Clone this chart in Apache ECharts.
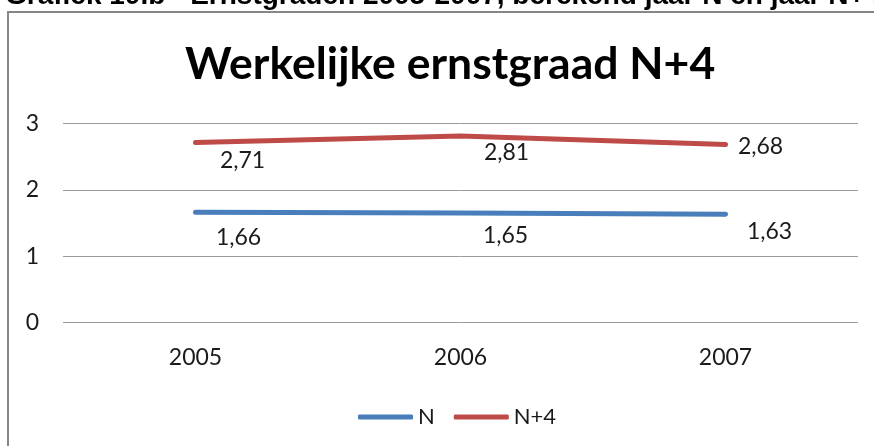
<!DOCTYPE html>
<html>
<head>
<meta charset="utf-8">
<script src="https://cdn.jsdelivr.net/npm/echarts@6/dist/echarts.min.js"></script>
<style>
html,body{margin:0;padding:0;background:#fff;}
#c{width:874px;height:446px;}
</style>
</head>
<body>
<div id="c"></div>
<script>
// ---- data ----
const categories = ['2005', '2006', '2007'];
const seriesNames = ['N', 'N+4'];
const valuesN = [1.66, 1.65, 1.63];
const valuesN4 = [2.71, 2.81, 2.68];
const yTicks = [0, 1, 2, 3];
const chartTitle = 'Werkelijke ernstgraad N+4';
const caption = 'Grafiek 10.b - Ernstgraden 2005-2007, berekend jaar N en jaar N+4';

// ---- layout / style (not data) ----
const labelOffsetsN = [[43, 25], [45, 23], [44, 17]];
const labelOffsetsN4 = [[47, 18], [46, 17], [35, 2]];
const fmt = v => String(v.toFixed(2)).replace('.', ',');
const FONT = 'Lato, "Open Sans", sans-serif';
const TXT = '#1a1a1a';
const GRID = '#9a9a9a';

function buildData(vals, offs) {
  return vals.map((v, i) => ({
    value: v,
    label: { offset: offs[i] }
  }));
}

const chart = echarts.init(document.getElementById('c'), null, { renderer: 'canvas' });
chart.setOption({
  backgroundColor: '#ffffff',
  animation: false,
  title: {
    text: chartTitle,
    left: 180,
    top: 37,
    textStyle: { fontFamily: FONT, fontWeight: 'bold', fontSize: 44.5, color: '#000' }
  },
  graphic: [
    {
      type: 'rect',
      shape: { x: 8, y: 12, width: 900, height: 500 },
      style: { fill: 'none', stroke: '#868686', lineWidth: 2 },
      silent: true, z: 0
    },
    {
      type: 'text',
      x: 5, y: -4,
      style: {
        text: caption,
        font: 'bold 28px "Liberation Sans", Arial, sans-serif',
        fill: '#000',
        verticalAlign: 'middle',
        align: 'left'
      },
      silent: true, z: 10
    }
  ],
  legend: {
    data: seriesNames,
    left: 353,
    top: 401,
    itemWidth: 55,
    itemHeight: 5,
    itemGap: 19,
    icon: 'roundRect',
    textStyle: { fontFamily: FONT, fontSize: 22, color: TXT, padding: [0, 0, 0, 0] }
  },
  grid: { left: 63, right: 16, top: 123.3, bottom: 123.3, containLabel: false },
  xAxis: {
    type: 'category',
    data: categories,
    boundaryGap: true,
    axisLine: { show: false },
    axisTick: { show: false },
    axisLabel: { fontFamily: FONT, fontSize: 23, color: TXT, margin: 23 }
  },
  yAxis: {
    type: 'value',
    min: yTicks[0],
    max: yTicks[yTicks.length - 1],
    interval: 1,
    axisLine: { show: false },
    axisTick: { show: false },
    splitLine: { lineStyle: { color: GRID, width: 1 } },
    axisLabel: { fontFamily: FONT, fontSize: 23, color: TXT, margin: 24 }
  },
  series: [
    {
      name: seriesNames[0],
      type: 'line',
      data: buildData(valuesN, labelOffsetsN),
      symbol: 'circle',
      symbolSize: 4,
      itemStyle: { color: '#4a7ebb' },
      lineStyle: { color: '#4a7ebb', width: 5, cap: 'round' },
      label: {
        show: true, position: 'inside', formatter: p => fmt(p.value),
        fontFamily: FONT, fontSize: 23, color: TXT, align: 'center', verticalAlign: 'middle'
      }
    },
    {
      name: seriesNames[1],
      type: 'line',
      data: buildData(valuesN4, labelOffsetsN4),
      symbol: 'circle',
      symbolSize: 4,
      itemStyle: { color: '#be4b48' },
      lineStyle: { color: '#be4b48', width: 5, cap: 'round' },
      label: {
        show: true, position: 'inside', formatter: p => fmt(p.value),
        fontFamily: FONT, fontSize: 23, color: TXT, align: 'center', verticalAlign: 'middle'
      }
    }
  ]
});
</script>
</body>
</html>
